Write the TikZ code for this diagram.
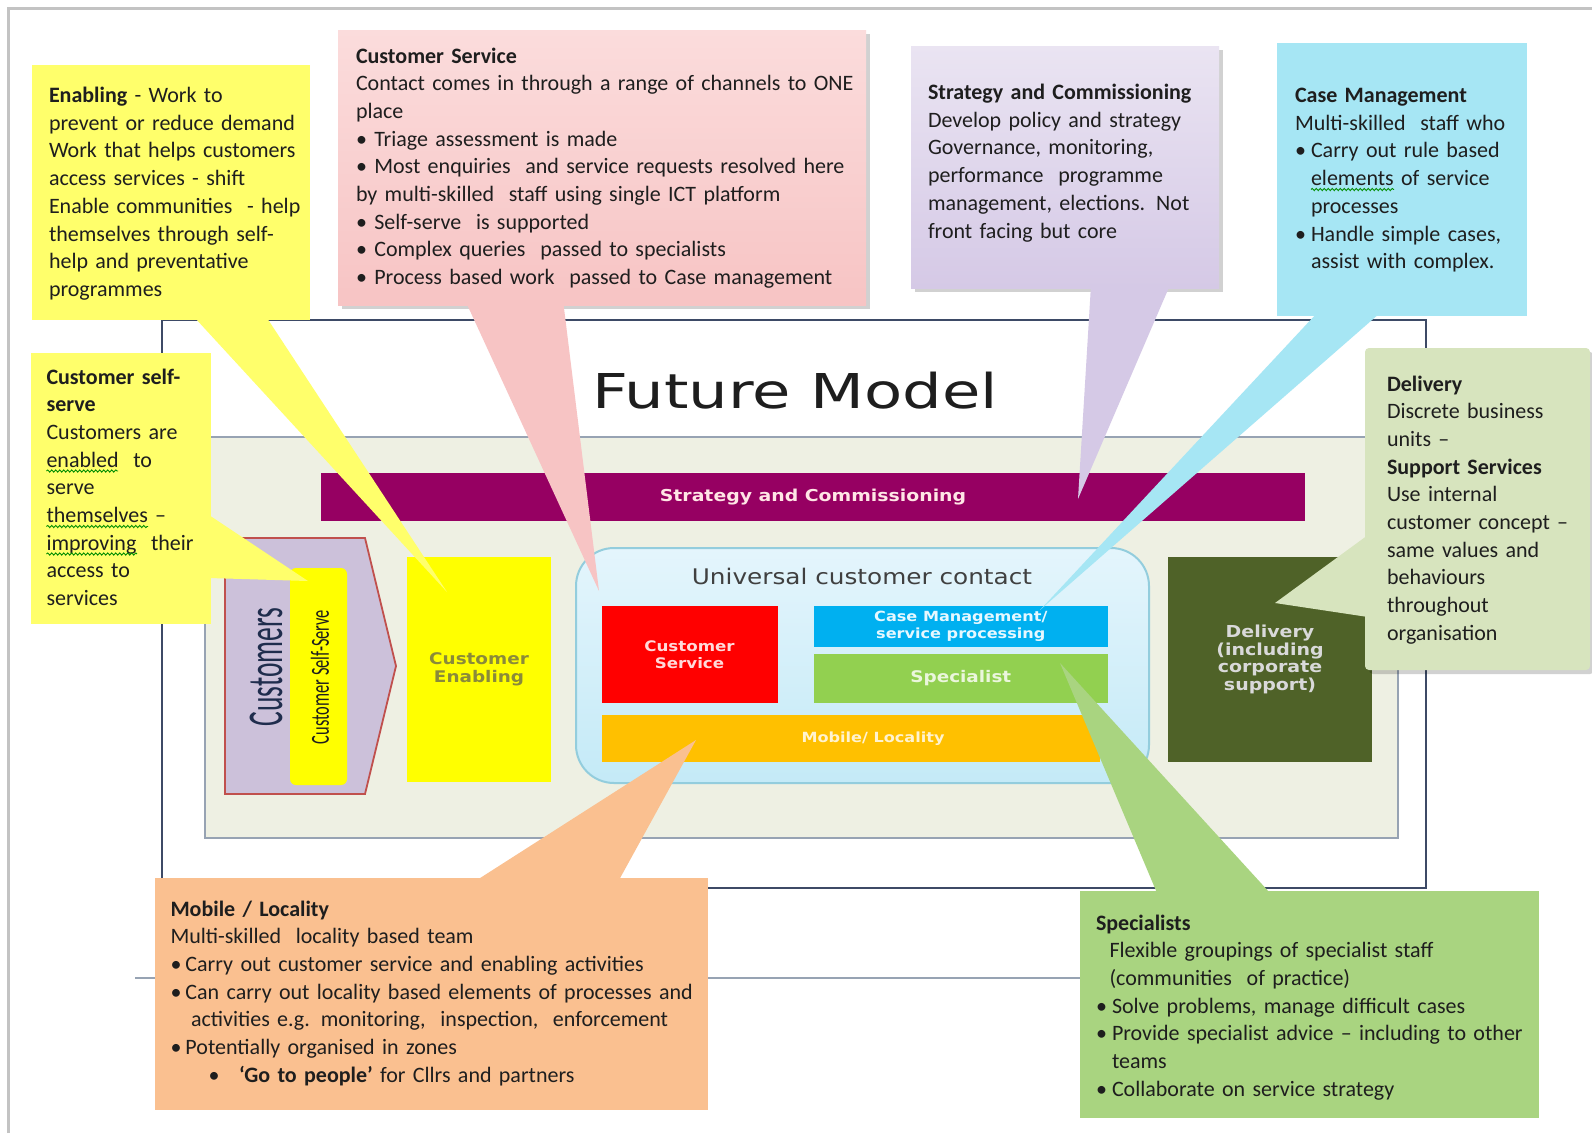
\documentclass[tikz,border=0pt]{standalone}
\usepackage{fontspec}
\setmainfont{Carlito}
\newfontfamily\slidef[FakeStretch=1.15]{DejaVu Sans}
\newfontfamily\titlef[FakeStretch=1.3]{DejaVu Sans}
\usetikzlibrary{decorations.pathmorphing}
\definecolor{txt}{HTML}{1E1E1E}
\definecolor{cyel}{HTML}{FFFF6B}
\definecolor{pyel}{HTML}{FFFF00}
\definecolor{pinkT}{HTML}{FBDCDC}
\definecolor{pinkB}{HTML}{F7C4C4}
\definecolor{lavT}{HTML}{EAE4F2}
\definecolor{lavB}{HTML}{D5C9E6}
\definecolor{cyanC}{HTML}{A6E6F4}
\definecolor{delivC}{HTML}{D7E4BE}
\definecolor{peach}{HTML}{FAC090}
\definecolor{greenC}{HTML}{A9D480}
\definecolor{beige}{HTML}{EEF0E3}
\definecolor{beigeline}{HTML}{97A3B3}
\definecolor{framec}{HTML}{3D4A66}
\definecolor{outerc}{HTML}{C3C3C3}
\definecolor{purp}{HTML}{960062}
\definecolor{chevfill}{HTML}{CCC1DA}
\definecolor{chevline}{HTML}{C0504D}
\definecolor{ucT}{HTML}{E4F5FC}
\definecolor{ucB}{HTML}{C4EAF7}
\definecolor{ucline}{HTML}{93CDDD}
\definecolor{cmblue}{HTML}{00B0F0}
\definecolor{spgreen}{HTML}{92D050}
\definecolor{mobor}{HTML}{FFC000}
\definecolor{delbox}{HTML}{4F6228}
\definecolor{navy}{HTML}{1F2D4D}
\begin{document}
\begin{tikzpicture}[x=1pt,y=-1pt,
  ctext/.style={anchor=base west, inner sep=0pt, outer sep=0pt, text width=#1,
    align=left, font=\fontsize{22}{27.7}\selectfont, text=txt},
  cbox/.style={draw=none, inner sep=0pt, outer sep=0pt},
  sbox/.style={draw=none, inner sep=0pt, outer sep=0pt, align=center},
  wavy/.style={draw=green!55!black, line width=0.9pt, decorate,
    decoration={snake, amplitude=1.1pt, segment length=4pt}},
  shadowfill/.style={fill=black, opacity=0.18}
]
\useasboundingbox (0,0) rectangle (1592,1133);
\fill[white] (0,0) rectangle (1592,1133);
% outer frame
\draw[outerc, line width=3pt] (8,1133) -- (8,8) -- (1592,8);
% lower frame line
\draw[beigeline, line width=1.5pt] (135,978) -- (1085,978);
% slide frame
\draw[framec, line width=2pt] (162,320) rectangle (1426,888);
% beige panel
\node[cbox, fill=beige, draw=beigeline, line width=1.2pt, minimum width=1193, minimum height=401] (panel) at (801.5,637.5) {};
% title
\node[inner sep=0pt, text=txt, font=\titlef\fontsize{48}{48}\selectfont] (title) at (795,391) {Future Model};
% purple bar
\node[sbox, fill=purp, minimum width=984, minimum height=48, text=pink!40!white,
  font=\slidef\bfseries\fontsize{16.4}{18}\selectfont] (strat) at (813,497) {Strategy and Commissioning};
% customers chevron
\draw[fill=chevfill, draw=chevline, line width=1.8pt] (225,538) -- (365,538) -- (396,666) -- (365,794) -- (225,794) -- cycle;
\node[inner sep=0pt, rotate=90, text=navy] (cust) at (266,667) {\scalebox{0.55}[1]{\fontsize{50}{50}\selectfont Customers}};
\node[cbox, fill=pyel, rounded corners=6pt, minimum width=57, minimum height=217] (selfbar) at (318.5,676.5) {};
\node[inner sep=0pt, rotate=90, text=txt] (selftxt) at (320,677) {\scalebox{0.63}[1]{\fontsize{26}{26}\selectfont Customer Self-Serve}};
% customer enabling
\node[sbox, fill=pyel, minimum width=144, minimum height=225, text={rgb,255:red,138;green,138;blue,58},
  font=\slidef\bfseries\fontsize{16}{18.4}\selectfont] (enab) at (479,669.5) {Customer\\Enabling};
% universal customer contact
\node[cbox, top color=ucT, bottom color=ucB, draw=ucline, line width=2pt, rounded corners=38pt,
  minimum width=573, minimum height=235] (uni) at (862.5,665.5) {};
\node[inner sep=0pt, text={rgb,255:red,64;green,64;blue,64}, font=\slidef\fontsize{21.5}{24}\selectfont] (unititle) at (862,576) {Universal customer contact};
\node[sbox, fill=red, minimum width=176, minimum height=97, text={rgb,255:red,255;green,218;blue,218},
  font=\slidef\bfseries\fontsize{14.5}{18.4}\selectfont] (csbox) at (689.5,654.5) {Customer\\[-1pt]Service};
\node[sbox, fill=cmblue, minimum width=293.6, minimum height=41, text={rgb,255:red,230;green,248;blue,255},
  font=\slidef\bfseries\fontsize{14}{18.4}\selectfont] (cmbox) at (960.8,626.5) {Case Management/\\[-1pt]service processing};
\node[sbox, fill=spgreen, minimum width=293.6, minimum height=49, text={rgb,255:red,235;green,246;blue,220},
  font=\slidef\bfseries\fontsize{16}{18}\selectfont] (spbox) at (960.8,678.5) {Specialist};
\node[cbox, fill=mobor, minimum width=498, minimum height=47] (mobbox) at (850.6,738.5) {};
\node[inner sep=0pt, text={rgb,255:red,255;green,243;blue,208}, font=\slidef\bfseries\fontsize{14}{18}\selectfont] (mobtxt) at (873,739) {Mobile/ Locality};
\node[sbox, fill=delbox, minimum width=204, minimum height=205, text={rgb,255:red,217;green,217;blue,217},
  font=\slidef\bfseries\fontsize{16.5}{17.6}\selectfont] (delbx) at (1270,659.5) {Delivery\\(including\\corporate\\support)};

% ===== callouts =====
% Enabling
\fill[cyel] (195,318) -- (267,318) -- (447,592) -- cycle;
\node[cbox, fill=cyel, minimum width=278, minimum height=255] (enabc) at (171,192.5) {};
\node[ctext=300pt] (enabt) at (49,102.5) {\textbf{Enabling} - Work to\\prevent or reduce demand\\Work that helps customers\\access services - shift\\Enable communities~ - help\\themselves through self-\\help and preventative\\programmes};
% Customer self-serve
\fill[cyel] (209,515) -- (308,581) -- (209,578) -- cycle;
\node[cbox, fill=cyel, minimum width=180, minimum height=271] (selfc) at (121,488.5) {};
\node[ctext=200pt] (selft) at (46.5,384) {\textbf{Customer self-}\\\textbf{serve}\\Customers are\\enabled~ to\\serve\\themselves –\\improving~ their\\access to\\services};
\draw[wavy] (46.5,471) -- (118,471);
\draw[wavy] (46.5,526.5) -- (148,526.5);
\draw[wavy] (46.5,554) -- (137,554);
% Customer service
\fill[shadowfill] (342,34) rectangle (870,309);
\fill[pinkB] (465,300) -- (563,300) -- (599,591) -- cycle;
\node[cbox, top color=pinkT, bottom color=pinkB, minimum width=528, minimum height=275] (csc) at (602,167.5) {};
\node[ctext=560pt] (cst) at (356,63) {\textbf{Customer Service}\\Contact comes in through a range of channels to ONE\\place\\• Triage assessment is made\\• Most enquiries~ and service requests resolved here\\by multi-skilled~ staff using single ICT platform\\• Self-serve~ is supported\\• Complex queries~ passed to specialists\\• Process based work~ passed to Case management};
% Strategy and commissioning
\fill[shadowfill] (915,50) rectangle (1223,292);
\fill[lavB] (1091,285) -- (1170,285) -- (1078,499) -- cycle;
\node[cbox, top color=lavT, bottom color=lavB, minimum width=308, minimum height=242] (stc) at (1065,167) {};
\node[ctext=320pt] (stt) at (928,99.5) {\textbf{Strategy and Commissioning}\\Develop policy and strategy\\Governance, monitoring,\\performance~ programme\\management, elections. Not\\front facing but core};
% Case management
\fill[cyanC] (1317,313) -- (1380,313) -- (1040,610) -- cycle;
\node[cbox, fill=cyanC, minimum width=250, minimum height=273] (cmc) at (1402,179.5) {};
\node[ctext=280pt] (cmt) at (1295,102.5) {\textbf{Case Management}\\Multi-skilled~ staff who\\\makebox[16pt][l]{•}Carry out rule based\\\hspace*{16pt}elements of service\\\hspace*{16pt}processes\\\makebox[16pt][l]{•}Handle simple cases,\\\hspace*{16pt}assist with complex.};
\draw[wavy] (1311,189.5) -- (1394,189.5);
% Delivery
\fill[shadowfill, rounded corners=4pt] (1369,352) rectangle (1594,674);
\fill[delivC] (1368,535) -- (1275,603) -- (1368,617) -- cycle;
\node[cbox, fill=delivC, rounded corners=4pt, minimum width=225, minimum height=322] (dlc) at (1477.5,509) {};
\node[ctext=240pt] (dlt) at (1387,391) {\textbf{Delivery}\\Discrete business\\units –\\\textbf{Support Services}\\Use internal\\customer concept –\\same values and\\behaviours\\throughout\\organisation};
% Mobile / locality
\fill[peach] (477,880) -- (619,880) -- (696,740) -- cycle;
\node[cbox, fill=peach, minimum width=553, minimum height=232] (mbc) at (431.5,994) {};
\node[ctext=600pt] (mbt) at (170.5,916) {\textbf{Mobile / Locality}\\Multi-skilled~ locality based team\\\makebox[15pt][l]{•}Carry out customer service and enabling activities\\\makebox[15pt][l]{•}Can carry out locality based elements of processes and\\\hspace*{20.5pt}activities e.g. monitoring,~ inspection,~ enforcement\\\makebox[15pt][l]{•}Potentially organised in zones\\\hspace*{38pt}\makebox[30.5pt][l]{•}\textbf{‘Go to people’} for Cllrs and partners};
% Specialists
\fill[greenC] (1157,893) -- (1270,893) -- (1060,663) -- cycle;
\node[cbox, fill=greenC, minimum width=459, minimum height=227] (spc) at (1309.5,1004.5) {};
\node[ctext=520pt] (spt) at (1096,930) {\textbf{Specialists}\\\hspace*{13.5pt}Flexible groupings of specialist staff\\\hspace*{13.5pt}(communities~ of practice)\\\makebox[16pt][l]{•}Solve problems, manage difficult cases\\\makebox[16pt][l]{•}Provide specialist advice – including to other\\\hspace*{16pt}teams\\\makebox[16pt][l]{•}Collaborate on service strategy};
\end{tikzpicture}
\end{document}
